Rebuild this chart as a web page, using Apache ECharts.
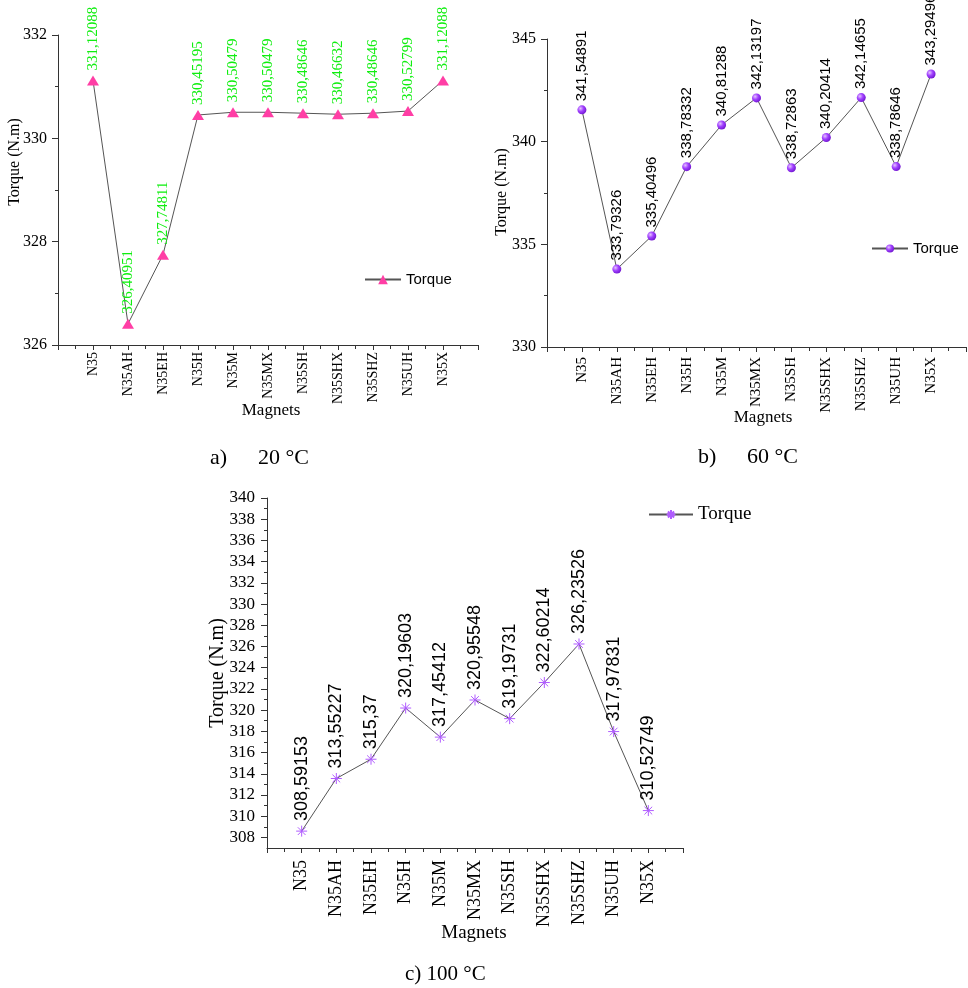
<!DOCTYPE html>
<html>
<head>
<meta charset="utf-8">
<script src="https://cdn.jsdelivr.net/npm/echarts@6/dist/echarts.min.js"></script>
<style>
  html, body { margin: 0; padding: 0; background: #fff; }
  #chart { width: 968px; height: 988px; }
</style>
</head>
<body>
<div id="chart"></div>
<script>
// Magnet grades on the horizontal axis (shared by all three panels)
const magnets = ['N35', 'N35AH', 'N35EH', 'N35H', 'N35M', 'N35MX', 'N35SH', 'N35SHX', 'N35SHZ', 'N35UH', 'N35X'];

// Torque (N.m) per magnet grade at each temperature
const torque20 = [331.12088, 326.40951, 327.74811, 330.45195, 330.50479, 330.50479, 330.48646, 330.46632, 330.48646, 330.52799, 331.12088];
const torque60 = [341.54891, 333.79326, 335.40496, 338.78332, 340.81288, 342.13197, 338.72863, 340.20414, 342.14655, 338.78646, 343.29496];
const torque100 = [308.59153, 313.55227, 315.37, 320.19603, 317.45412, 320.95548, 319.19731, 322.60214, 326.23526, 317.97831, 310.52749];

// Tick values of the 100 °C torque axis
const ticks100 = [308, 310, 312, 314, 316, 318, 320, 322, 324, 326, 328, 330, 332, 334, 336, 338, 340];
const minorTicks100 = [309, 311, 313, 315, 317, 319, 321, 323, 325, 327, 329, 331, 333, 335, 337, 339];

const SERIF = 'Liberation Serif';
const SANS = 'Liberation Sans';
const AXIS_COLOR = '#333';

const decimalComma = v => String(v).replace('.', ',');
const toPoints = arr => arr.map((v, i) => [i + 1, v]);

function magnetAxis(gridIndex, fontSize, margin) {
  return {
    type: 'value', gridIndex, min: 0, max: 12, interval: 1,
    axisLine: { show: true, onZero: false, lineStyle: { color: AXIS_COLOR, width: 1 } },
    axisTick: { show: true, length: 5, lineStyle: { color: AXIS_COLOR } },
    minorTick: { show: true, splitNumber: 2, length: 4, lineStyle: { color: AXIS_COLOR } },
    splitLine: { show: false }, minorSplitLine: { show: false },
    axisLabel: {
      rotate: 90, margin, fontFamily: SERIF, fontSize, color: '#000',
      formatter: v => magnets[v - 1] || ''
    }
  };
}

function torqueAxis(gridIndex, min, max, interval, fontSize, margin) {
  return {
    type: 'value', gridIndex, min, max, interval,
    axisLine: { show: true, lineStyle: { color: AXIS_COLOR, width: 1 } },
    axisTick: { show: true, length: 6, lineStyle: { color: AXIS_COLOR } },
    minorTick: { show: true, splitNumber: 2, length: 3, lineStyle: { color: AXIS_COLOR } },
    splitLine: { show: false }, minorSplitLine: { show: false },
    axisLabel: { margin, fontFamily: SERIF, fontSize, color: '#000' }
  };
}

function valueLabel(color, family, size, distance) {
  return {
    show: true, position: 'top', rotate: 90, align: 'left', verticalAlign: 'middle',
    distance, color, fontFamily: family, fontSize: size,
    formatter: p => decimalComma(p.value[1])
  };
}

const asterisk = 'path://M5 0L5 10M0 5L10 5M1.5 1.5L8.5 8.5M8.5 1.5L1.5 8.5';
const sphere = {
  type: 'radial', x: 0.35, y: 0.35, r: 0.75,
  colorStops: [
    { offset: 0, color: '#e6c2ff' },
    { offset: 0.45, color: '#a040ff' },
    { offset: 1, color: '#6a10c8' }
  ]
};

const yAxis100 = {
  type: 'value', gridIndex: 2, min: 307, max: 340,
  axisLine: { show: true, lineStyle: { color: AXIS_COLOR, width: 1 } },
  axisTick: { show: true, length: 6, customValues: ticks100, lineStyle: { color: AXIS_COLOR } },
  splitLine: { show: false },
  axisLabel: { margin: 12, fontFamily: SERIF, fontSize: 17, color: '#000', customValues: ticks100 }
};
const yAxis100Minor = {
  type: 'value', gridIndex: 2, min: 307, max: 340, position: 'left',
  axisLine: { show: false },
  axisTick: { show: true, length: 3, customValues: minorTicks100, lineStyle: { color: AXIS_COLOR } },
  splitLine: { show: false },
  axisLabel: { show: false }
};

function text(x, y, str, size, opts) {
  return Object.assign({
    type: 'text', x, y,
    style: Object.assign({ text: str, font: size + 'px "' + SERIF + '"', fill: '#000', align: 'center', verticalAlign: 'middle' }, (opts && opts.style) || {})
  }, (opts && opts.el) || {});
}

const option = {
  animation: false,
  backgroundColor: '#fff',
  grid: [
    { left: 58, top: 35, width: 420, height: 310 },
    { left: 547, top: 39, width: 419, height: 308 },
    { left: 267, top: 498, width: 416, height: 350 }
  ],
  xAxis: [magnetAxis(0, 14, 7), magnetAxis(1, 15, 10), magnetAxis(2, 18, 12)],
  yAxis: [
    torqueAxis(0, 326, 332, 2, 16, 11),
    torqueAxis(1, 330, 345, 5, 16, 11),
    yAxis100,
    yAxis100Minor
  ],
  legend: [
    {
      left: 364, top: 272, padding: 0, itemWidth: 36, itemHeight: 12,
      data: ['Torque 20 °C'], formatter: () => 'Torque',
      textStyle: { fontFamily: SANS, fontSize: 15, color: '#000' }
    },
    {
      left: 871, top: 241, padding: 0, itemWidth: 36, itemHeight: 10,
      data: ['Torque 60 °C'], formatter: () => 'Torque',
      textStyle: { fontFamily: SANS, fontSize: 15, color: '#000' }
    },
    {
      left: 648, top: 505, padding: 0, itemWidth: 44, itemHeight: 11,
      data: ['Torque 100 °C'], formatter: () => 'Torque',
      textStyle: { fontFamily: SERIF, fontSize: 19, color: '#000' }
    }
  ],
  series: [
    {
      name: 'Torque 20 °C', type: 'line', xAxisIndex: 0, yAxisIndex: 0,
      data: toPoints(torque20),
      symbol: 'triangle', symbolSize: [12, 10],
      itemStyle: { color: '#ff3ea5' },
      lineStyle: { color: '#555', width: 1 },
      label: valueLabel('#10ee10', SERIF, 15, 5)
    },
    {
      name: 'Torque 60 °C', type: 'line', xAxisIndex: 1, yAxisIndex: 1,
      data: toPoints(torque60),
      symbol: 'circle', symbolSize: 9,
      itemStyle: { color: sphere },
      lineStyle: { color: '#555', width: 1 },
      label: valueLabel('#000', SANS, 15, 4)
    },
    {
      name: 'Torque 100 °C', type: 'line', xAxisIndex: 2, yAxisIndex: 2,
      data: toPoints(torque100),
      symbol: asterisk, symbolSize: 11,
      itemStyle: { color: 'transparent', borderColor: '#b05cff', borderWidth: 1 },
      lineStyle: { color: '#555', width: 1 },
      label: valueLabel('#000', SANS, 18, 4)
    }
  ],
  graphic: [
    // axis titles
    text(15, 162, 'Torque (N.m)', 16, { el: { rotation: Math.PI / 2 } }),
    text(502, 192, 'Torque (N.m)', 16, { el: { rotation: Math.PI / 2 } }),
    text(218, 673, 'Torque (N.m)', 20, { el: { rotation: Math.PI / 2 } }),
    text(271, 411, 'Magnets', 17),
    text(763, 418, 'Magnets', 17),
    text(474, 933, 'Magnets', 19),
    // panel captions
    text(210, 458, 'a)', 22, { style: { align: 'left' } }),
    text(258, 458, '20 °C', 22, { style: { align: 'left' } }),
    text(698, 457, 'b)', 22, { style: { align: 'left' } }),
    text(747, 457, '60 °C', 22, { style: { align: 'left' } }),
    text(405, 974, 'c) 100 °C', 21, { style: { align: 'left' } })
  ]
};

const chart = echarts.init(document.getElementById('chart'), null, { renderer: 'canvas' });
chart.setOption(option);
</script>
</body>
</html>
